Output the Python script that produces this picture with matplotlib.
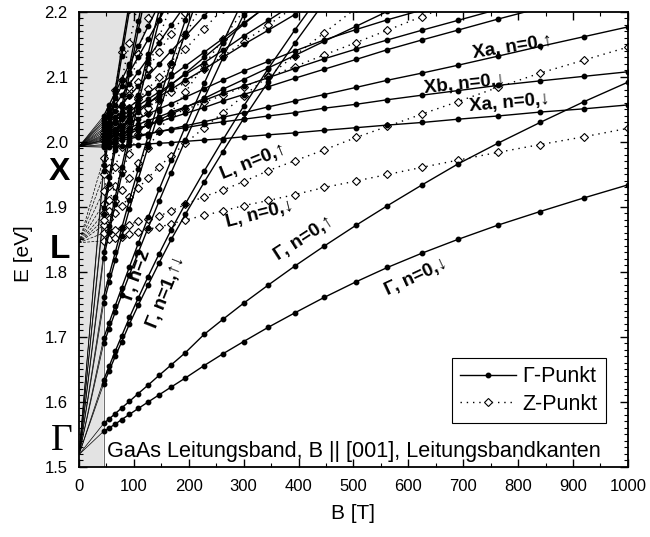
import matplotlib.pyplot as plt
from matplotlib.ticker import MultipleLocator
from matplotlib.lines import Line2D

plt.rcParams['font.family'] = ['Liberation Sans', 'DejaVu Sans']

# Magnetfeld-Stuetzstellen [T] (Punkte der Rechnung)
B = [45, 55, 66, 78, 92, 108, 126, 146, 168, 194, 228, 262, 300, 345, 393, 447,
     505, 562, 625, 690, 763, 840, 920, 1000]

# Bandkanten [eV]
E_gamma = 1.519
E_L = 1.845
E_X = 1.993
B_min = 45

# Gamma-Punkt, Landau-Niveaus (durchgezogen)
g0_dn = [1.555, 1.560, 1.566, 1.573, 1.581, 1.590, 1.600, 1.611, 1.623, 1.637, 1.656, 1.674,
         1.693, 1.715, 1.737, 1.761, 1.785, 1.807, 1.829, 1.850, 1.872, 1.893, 1.914, 1.934]
g0_up = [1.567, 1.574, 1.582, 1.591, 1.601, 1.613, 1.626, 1.641, 1.657, 1.676, 1.704, 1.727,
         1.752, 1.780, 1.809, 1.840, 1.872, 1.902, 1.934, 1.966, 1.998, 2.030, 2.062, 2.092]
g1_up = [1.634, 1.655, 1.678, 1.702, 1.730, 1.760, 1.793, 1.828, 1.865, 1.905, 1.955, 2.003,
         2.055, 2.113, 2.172, 2.235]
g1_dn = [1.628, 1.648, 1.670, 1.693, 1.720, 1.749, 1.780, 1.814, 1.850, 1.889, 1.938, 1.985,
         2.036, 2.093, 2.152, 2.215]
g2_up = [1.698, 1.722, 1.748, 1.776, 1.808, 1.844, 1.884, 1.927, 1.972, 2.024, 2.090, 2.153, 2.220]
g2_dn = [1.690, 1.713, 1.738, 1.765, 1.796, 1.830, 1.868, 1.909, 1.953, 2.003, 2.067, 2.129,
         2.196, 2.270]
g3_up = [1.762, 1.795, 1.830, 1.868, 1.911, 1.958, 2.009, 2.064, 2.122, 2.188, 2.270]
g3_dn = [1.752, 1.784, 1.818, 1.855, 1.897, 1.943, 1.993, 2.047, 2.104, 2.168, 2.250]
g4_up = [1.830, 1.871, 1.915, 1.962, 2.015, 2.073, 2.136, 2.203, 2.270]
g4_dn = [1.821, 1.861, 1.904, 1.950, 2.002, 2.059, 2.121, 2.187, 2.260]
g5_up = [1.898, 1.946, 1.998, 2.054, 2.117, 2.186, 2.260]
g5_dn = [1.889, 1.936, 1.987, 2.042, 2.104, 2.172, 2.245]
g6_up = [1.965, 2.020, 2.080, 2.144, 2.215]
g6_dn = [1.956, 2.010, 2.069, 2.132, 2.203]

# X-Taeler am Gamma-Punkt (durchgezogen)
xa0_dn = [1.992, 1.993, 1.993, 1.994, 1.995, 1.996, 1.997, 1.998, 1.999, 2.001, 2.003, 2.005,
          2.008, 2.011, 2.014, 2.018, 2.022, 2.026, 2.030, 2.035, 2.040, 2.046, 2.051, 2.057]
xb0_dn = [2.000, 2.002, 2.004, 2.006, 2.008, 2.010, 2.013, 2.016, 2.019, 2.022, 2.027, 2.031,
          2.035, 2.040, 2.045, 2.052, 2.058, 2.065, 2.072, 2.079, 2.087, 2.094, 2.101, 2.108]
xa0_up = [1.996, 1.998, 2.000, 2.003, 2.005, 2.008, 2.012, 2.016, 2.020, 2.025, 2.031, 2.038,
          2.045, 2.054, 2.063, 2.073, 2.084, 2.095, 2.106, 2.118, 2.132, 2.147, 2.162, 2.177]
x04 = [2.004, 2.007, 2.010, 2.013, 2.017, 2.021, 2.026, 2.031, 2.037, 2.044, 2.053, 2.063,
       2.073, 2.085, 2.098, 2.112, 2.127, 2.142, 2.157, 2.172, 2.189, 2.206]
x05 = [2.008, 2.011, 2.014, 2.018, 2.022, 2.027, 2.033, 2.039, 2.046, 2.054, 2.064, 2.075,
       2.086, 2.099, 2.113, 2.128, 2.143, 2.157, 2.172, 2.187, 2.204]
x06 = [2.012, 2.016, 2.020, 2.025, 2.030, 2.036, 2.043, 2.051, 2.059, 2.069, 2.082, 2.095,
       2.109, 2.124, 2.140, 2.157, 2.173, 2.188, 2.203]
x07 = [2.018, 2.023, 2.029, 2.035, 2.042, 2.050, 2.060, 2.070, 2.081, 2.095, 2.112, 2.130,
       2.150, 2.172, 2.196, 2.222]
x08 = [2.021, 2.027, 2.033, 2.040, 2.047, 2.056, 2.066, 2.077, 2.089, 2.104, 2.122, 2.141,
       2.163, 2.187, 2.213]
x09 = [2.025, 2.031, 2.038, 2.046, 2.054, 2.064, 2.075, 2.088, 2.101, 2.117, 2.138, 2.159,
       2.183, 2.210]
x10 = [2.029, 2.038, 2.048, 2.059, 2.071, 2.086, 2.102, 2.120, 2.140, 2.163, 2.194, 2.224]
x11 = [2.032, 2.044, 2.057, 2.072, 2.089, 2.108, 2.129, 2.153, 2.180, 2.211]
x12 = [2.036, 2.051, 2.068, 2.086, 2.107, 2.131, 2.158, 2.188, 2.221]
x13 = [2.040, 2.057, 2.076, 2.096, 2.120, 2.147, 2.178, 2.212]
x14 = [1.994, 1.998, 2.002, 2.007, 2.013, 2.019, 2.026, 2.034, 2.043, 2.053, 2.067, 2.081,
       2.096, 2.114, 2.133, 2.155, 2.178, 2.201]
x15 = [2.002, 2.009, 2.017, 2.025, 2.035, 2.046, 2.059, 2.073, 2.088, 2.106, 2.130, 2.154,
       2.181, 2.212]

# Z-Punkt (gepunktet): L-Taeler und hoehere Niveaus
l0_dn = [1.848, 1.850, 1.852, 1.854, 1.858, 1.862, 1.866, 1.869, 1.874, 1.880, 1.887, 1.894,
         1.902, 1.910, 1.919, 1.930, 1.940, 1.950, 1.961, 1.972, 1.984, 1.996, 2.008, 2.021]
l0_up = [1.860, 1.863, 1.865, 1.868, 1.873, 1.878, 1.882, 1.886, 1.894, 1.904, 1.916, 1.926,
         1.939, 1.956, 1.971, 1.988, 2.007, 2.024, 2.043, 2.062, 2.084, 2.106, 2.126, 2.146]
z01 = [1.872, 1.881, 1.891, 1.902, 1.915, 1.929, 1.945, 1.962, 1.979, 1.998, 2.022, 2.045,
       2.071, 2.101, 2.133, 2.168, 2.206]
z02 = [1.880, 1.894, 1.909, 1.926, 1.945, 1.967, 1.991, 2.017, 2.045, 2.077, 2.118, 2.158, 2.202]
z03 = [1.890, 1.910, 1.932, 1.955, 1.982, 2.012, 2.045, 2.081, 2.120, 2.164, 2.220]
z04 = [1.905, 1.932, 1.961, 1.993, 2.029, 2.069, 2.113, 2.161, 2.212]
z05 = [1.925, 1.960, 1.997, 2.038, 2.084, 2.135, 2.191, 2.250]
z06 = [1.950, 1.995, 2.043, 2.095, 2.152, 2.215]
z07 = [1.975, 2.025, 2.080, 2.138, 2.205]
z08 = [2.003, 2.006, 2.009, 2.013, 2.017, 2.022, 2.028, 2.034, 2.041, 2.050, 2.061, 2.072,
       2.085, 2.100, 2.116, 2.134, 2.153, 2.172, 2.193, 2.215]
z09 = [2.006, 2.012, 2.018, 2.025, 2.033, 2.042, 2.052, 2.064, 2.077, 2.092, 2.112, 2.132,
       2.154, 2.180, 2.208]
z10 = [2.010, 2.019, 2.028, 2.039, 2.052, 2.066, 2.082, 2.100, 2.120, 2.143, 2.174, 2.205]
z11 = [2.015, 2.027, 2.040, 2.055, 2.072, 2.092, 2.114, 2.139, 2.166, 2.198, 2.240]

gamma_lines = [g0_dn, g0_up, g1_up, g1_dn, g2_up, g2_dn, g3_up, g3_dn, g4_up, g4_dn,
               g5_up, g5_dn, g6_up, g6_dn]
x_lines = [xa0_dn, xb0_dn, xa0_up, x04, x05, x06, x07, x08, x09, x10, x11, x12, x13, x14, x15]
l_lines = [l0_dn, l0_up, z01, z02, z03, z04, z05, z06, z07]
zx_lines = [z08, z09, z10, z11]

fig = plt.figure(figsize=(6.5, 5.37), dpi=100)
ax = fig.add_axes([0.1215, 0.1304, 0.8445, 0.8473])

# grauer Bereich (kleine Felder)
ax.fill([0, B_min, B_min, 138, 0], [1.5, 1.5, 2.04, 2.2, 2.2], color='#e3e3e3', lw=0, zorder=0)
ax.plot([B_min, B_min], [1.5, 2.04], color='#555555', lw=0.6, zorder=1)

# Verbindungen zu den Bandkanten
for e in gamma_lines:
    ax.plot([0, B[0]], [E_gamma, e[0]], color='k', lw=0.5, zorder=1)
for e in x_lines + zx_lines:
    ax.plot([0, B[0]], [E_X, e[0]], color='k', lw=0.5, zorder=1)
for e in l_lines:
    ax.plot([0, B[0]], [E_L, e[0]], color='k', lw=0.5, ls=(0, (4, 2)), zorder=1)

solid = dict(color='k', lw=1.0, marker='o', ms=3.2, mfc='k', mec='k', zorder=3)
dotted = dict(color='k', lw=1.0, ls=(0, (1, 3.5)), marker='D', ms=3.6, mfc='white',
              mec='k', mew=0.8, zorder=2)

for e in gamma_lines + x_lines:
    ax.plot(B[:len(e)], e, **solid)
for e in l_lines + zx_lines:
    ax.plot(B[:len(e)], e, **dotted)

ax.set_xlim(0, 1000)
ax.set_ylim(1.5, 2.2)
ax.xaxis.set_major_locator(MultipleLocator(100))
ax.xaxis.set_minor_locator(MultipleLocator(50))
ax.yaxis.set_major_locator(MultipleLocator(0.1))
ax.yaxis.set_minor_locator(MultipleLocator(0.01))
ax.tick_params(which='both', direction='in', top=True, right=True, labelsize=12)
ax.tick_params(which='major', length=6, width=1)
ax.tick_params(which='minor', length=3, width=0.8)
ax.tick_params(axis='x', which='major', pad=9)
ax.tick_params(axis='y', which='major', pad=8)
for s in ax.spines.values():
    s.set_linewidth(1.3)
ax.set_xlabel('B [T]', fontsize=15)
ax.set_ylabel('E [eV]', fontsize=15)
ax.xaxis.set_label_coords(0.499, -0.082)
ax.yaxis.set_label_coords(-0.084, 0.468)
ax.xaxis.label.set_va('top')

# Bandkanten-Beschriftungen links
ax.text(-0.0355, 0.631, 'X', transform=ax.transAxes, fontsize=23, fontweight='bold',
        ha='center', va='baseline')
ax.text(-0.0346, 0.460, 'L', transform=ax.transAxes, fontsize=24, fontweight='bold',
        ha='center', va='baseline')
ax.text(-0.031, 0.058, 'Γ', transform=ax.transAxes, fontsize=27, family='Liberation Serif',
        ha='center', va='center')

# Beschriftung der Niveaus
labels = [
    ('Xa, n=0,↑', 790, 2.146, 9),
    ('Xb, n=0,↓', 703, 2.089, 6),
    ('Xa, n=0,↓', 785, 2.060, 5),
    ('L, n=0,↑', 317, 1.969, 22),
    ('L, n=0,↓', 330, 1.888, 14),
    ('Γ, n=0,↑', 410, 1.852, 33),
    ('Γ, n=0,↓', 614, 1.792, 25),
    ('Γ, n=2', 106, 1.795, 70),
    ('Γ, n=1,↑↓', 160, 1.769, 68),
]
for txt, bx, ey, rot in labels:
    ax.text(bx, ey, txt, fontsize=13.5, fontweight='bold', rotation=rot,
            rotation_mode='anchor', ha='center', va='center', zorder=5)

ax.text(0.051, 0.022, 'GaAs Leitungsband, B || [001], Leitungsbandkanten',
        transform=ax.transAxes, fontsize=15.6, ha='left', va='baseline', zorder=5)

handles = [Line2D([], [], **solid), Line2D([], [], **dotted)]
leg = ax.legend(handles, ['Γ-Punkt', 'Z-Punkt'], loc='upper left',
                bbox_to_anchor=(0.679, 0.24), fontsize=15.5, frameon=True,
                fancybox=False, edgecolor='k', framealpha=1, handlelength=2.6,
                handletextpad=0.3, borderpad=0.4, labelspacing=0.3, borderaxespad=0)
leg.get_frame().set_linewidth(0.8)
leg.set_zorder(6)

fig.savefig('out.png', dpi=100)
